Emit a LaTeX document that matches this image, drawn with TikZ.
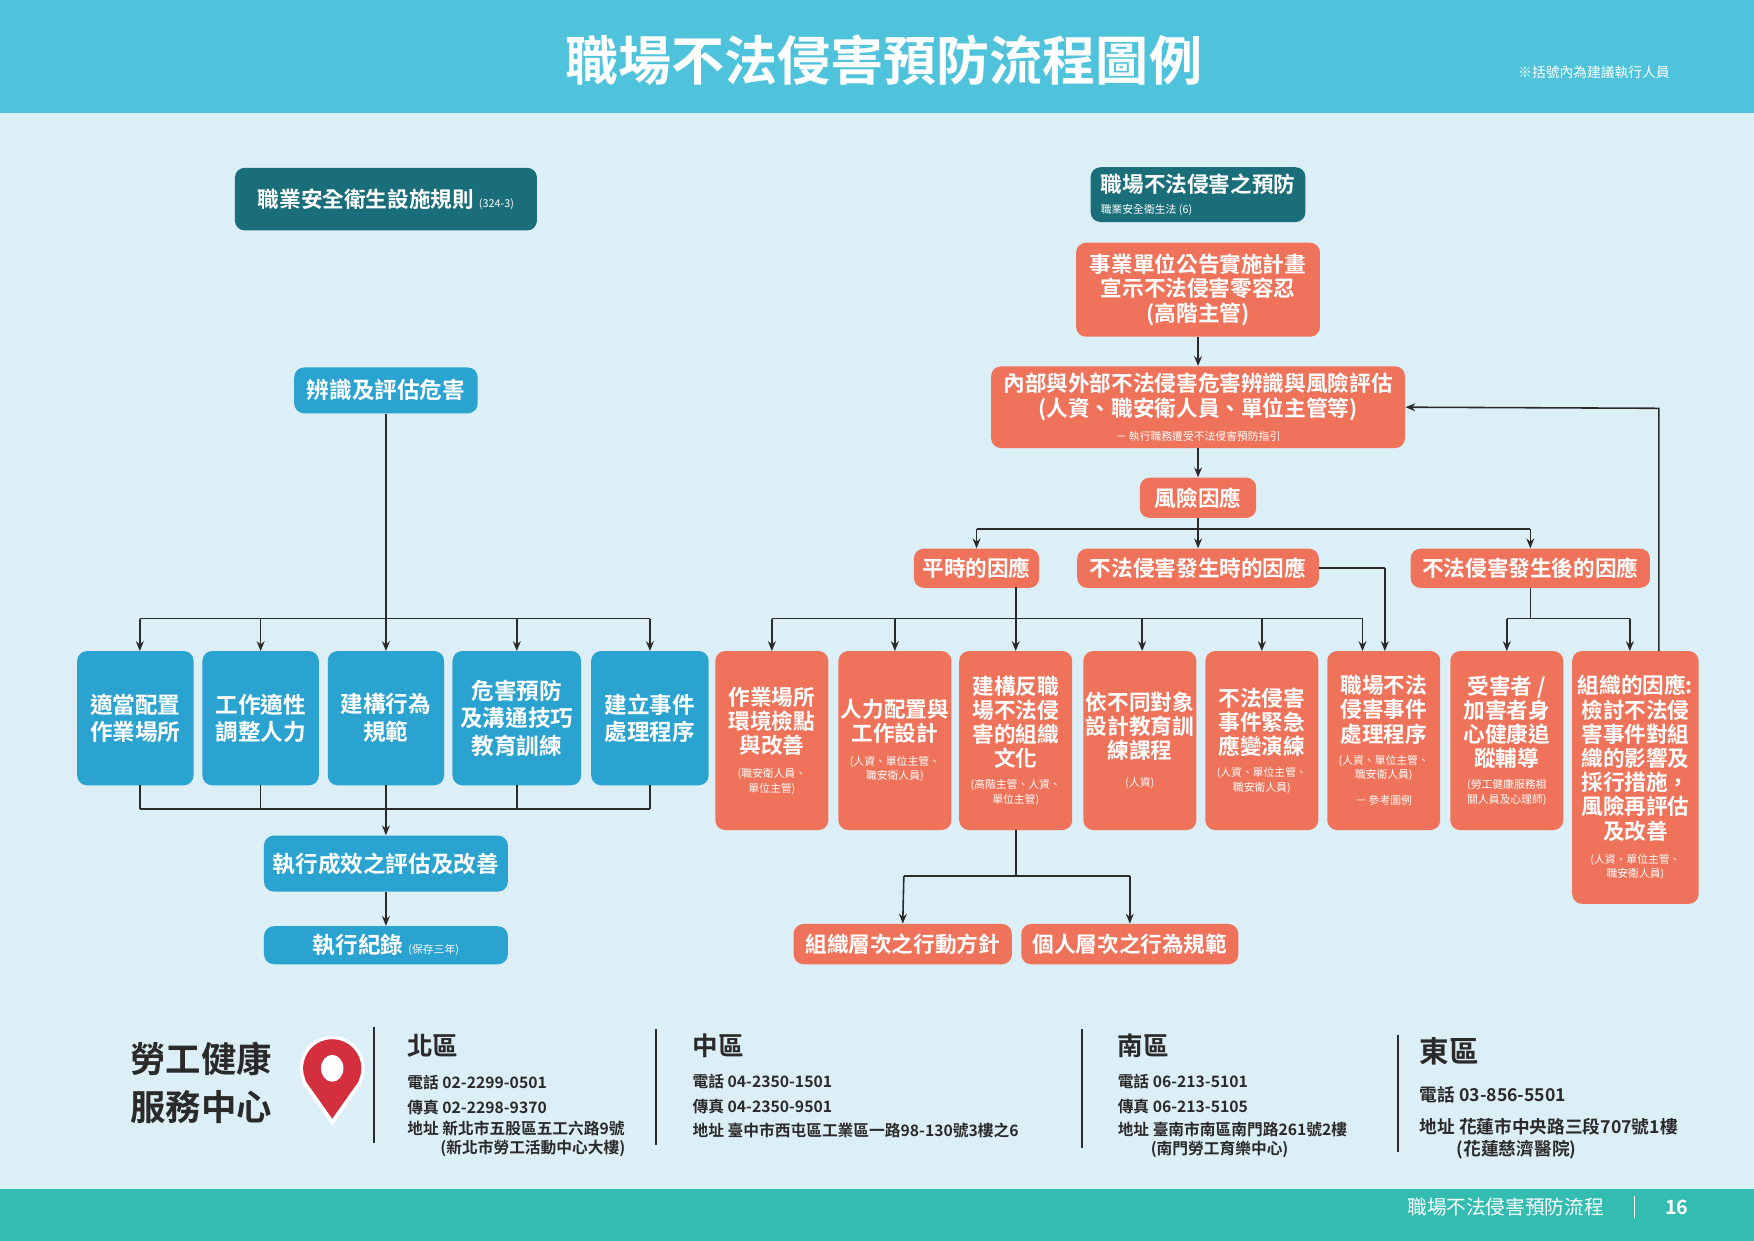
\documentclass[tikz,border=0pt]{standalone}
\usepackage{fontspec}
\setmainfont{Noto Sans CJK TC}[BoldFont={* Bold}]
\usetikzlibrary{arrows.meta}
\definecolor{hdr}{HTML}{4FC3DB}
\definecolor{bg}{HTML}{DDEFF6}
\definecolor{ftr}{HTML}{33BCB0}
\definecolor{dk}{HTML}{1A6E7A}
\definecolor{bl}{HTML}{2BA3D0}
\definecolor{org}{HTML}{EE735A}
\definecolor{ln}{HTML}{2A2A2A}
\definecolor{pinred}{HTML}{D32F3F}
\def\pxu{0.02cm}
\tikzset{
 bx/.style={rounded corners=5pt,text=white,align=center,inner sep=1pt,font=\bfseries\fontsize{11}{13.5}\selectfont},
 dbox/.style={bx,fill=dk},
 bbox/.style={bx,fill=bl,font=\bfseries\fontsize{11.5}{14}\selectfont},
 obox/.style={bx,fill=org},
 tall/.style={obox,minimum width=101*\pxu,minimum height=160*\pxu,font=\bfseries\fontsize{11}{12.3}\selectfont},
 cn/.style={draw=ln,line width=0.8pt},
 ar/.style={cn,-{Stealth[length=5pt,width=4pt]}},
 ft/.style={anchor=west,text=ln,font=\bfseries\fontsize{8}{10}\selectfont,align=left}
}
\newcommand{\smt}[1]{{\fontsize{5.5}{7}\selectfont\mdseries #1}}
\newcommand{\smf}{\fontsize{5.5}{6.5}\selectfont\mdseries}
\begin{document}
\begin{tikzpicture}[x=0.02cm,y=-0.02cm]
\fill[bg] (0,0) rectangle (1568,1109);
\fill[hdr] (0,0) rectangle (1568,101);
\fill[ftr] (0,1063) rectangle (1568,1109);
\node[text=white,font=\bfseries\fontsize{27}{30}\selectfont] (title) at (790,54) {職場不法侵害預防流程圖例};
\node[text=white,font=\fontsize{7}{8}\selectfont] (note) at (1425,65) {※括號內為建議執行人員};
\node[text=white,font=\fontsize{10}{12}\selectfont,anchor=east] (pg) at (1440,1079) {職場不法侵害預防流程};
\draw[white,line width=0.8pt] (1461,1069) -- (1461,1089);
\node[text=white,font=\bfseries\fontsize{10}{12}\selectfont] (pgn) at (1499,1079) {16};

% left column
\node[dbox,minimum width=270*\pxu,minimum height=56*\pxu] (l0) at (345,178) {職業安全衛生設施規則 \smt{(324-3)}};
\node[bbox,minimum width=164*\pxu,minimum height=41*\pxu] (l1) at (345,349) {辨識及評估危害};
\node[bbox,minimum width=104*\pxu,minimum height=120*\pxu] (La) at (121,642) {適當配置\\作業場所};
\node[bbox,minimum width=104*\pxu,minimum height=120*\pxu] (Lb) at (233,642) {工作適性\\調整人力};
\node[bbox,minimum width=104*\pxu,minimum height=120*\pxu] (Lc) at (345,642) {建構行為\\規範};
\node[bbox,minimum width=115*\pxu,minimum height=120*\pxu] (Ld) at (462,642) {危害預防\\及溝通技巧\\教育訓練};
\node[bbox,minimum width=105*\pxu,minimum height=120*\pxu] (Le) at (581,642) {建立事件\\處理程序};
\node[bbox,minimum width=218*\pxu,minimum height=50*\pxu] (l2) at (345,772) {執行成效之評估及改善};
\node[bbox,minimum width=218*\pxu,minimum height=34*\pxu] (l3) at (345,845) {執行紀錄 \smt{(保存三年)}};
\draw[cn] (l1.south) -- (345,553);
\draw[cn] (125,553) -- (581,553);
\foreach \x in {125,233,345,462,581} \draw[ar] (\x,553) -- (\x,582);
\foreach \x in {125,233,345,462,581} \draw[cn] (\x,702) -- (\x,723);
\draw[cn] (125,723) -- (581,723);
\draw[ar] (345,723) -- (l2.north);
\draw[ar] (l2.south) -- (l3.north);

% right column
\node[dbox,minimum width=192*\pxu,minimum height=49*\pxu,align=left] (r0) at (1071,174) {職場不法侵害之預防\\[-3pt]\smf 職業安全衛生法 (6)};
\node[obox,minimum width=218*\pxu,minimum height=84*\pxu,font=\bfseries\fontsize{11}{12.5}\selectfont] (r1) at (1071,259) {事業單位公告實施計畫\\宣示不法侵害零容忍\\(高階主管)};
\node[obox,minimum width=370*\pxu,minimum height=73*\pxu,font=\bfseries\fontsize{11}{12.5}\selectfont] (r2) at (1071,364) {內部與外部不法侵害危害辨識與風險評估\\(人資、職安衛人員、單位主管等)\\\smf － 執行職務遭受不法侵害預防指引};
\node[obox,minimum width=104*\pxu,minimum height=36*\pxu] (r3) at (1071,445) {風險因應};
\node[obox,minimum width=112*\pxu,minimum height=35*\pxu] (p1) at (873,508) {平時的因應};
\node[obox,minimum width=216*\pxu,minimum height=35*\pxu] (p2) at (1071,508) {不法侵害發生時的因應};
\node[obox,minimum width=214*\pxu,minimum height=35*\pxu] (p3) at (1368,508) {不法侵害發生後的因應};
\draw[ar] (r1.south) -- (r2.north);
\draw[ar] (r2.south) -- (r3.north);
\draw[cn] (r3.south) -- (1071,473);
\draw[cn] (873,473) -- (1368,473);
\draw[ar] (873,473) -- (p1.north);
\draw[ar] (1071,473) -- (p2.north);
\draw[ar] (1368,473) -- (p3.north);

\node[tall] (Ra) at (690,662) {作業場所\\環境檢點\\與改善\\[0pt]\smf (職安衛人員、\\[-5pt]\smf 單位主管)};
\node[tall] (Rb) at (800,662) {人力配置與\\工作設計\\[0pt]\smf (人資、單位主管、\\[-5pt]\smf 職安衛人員)};
\node[tall] (Rc) at (908,662) {建構反職\\場不法侵\\害的組織\\文化\\[-1pt]\smf (高階主管、人資、\\[-5pt]\smf 單位主管)};
\node[tall] (Rd) at (1019,662) {依不同對象\\設計教育訓\\練課程\\[2pt]\smf (人資)};
\node[tall] (Re) at (1128,662) {不法侵害\\事件緊急\\應變演練\\[-1pt]\smf (人資、單位主管、\\[-5pt]\smf 職安衛人員)};
\node[tall] (Rf) at (1237,662) {職場不法\\侵害事件\\處理程序\\[-1pt]\smf (人資、單位主管、\\[-5pt]\smf 職安衛人員)\\[1pt]\smf － 參考圖例};
\node[tall] (Rg) at (1347,662) {受害者 /\\加害者身\\心健康追\\蹤輔導\\[-1pt]\smf (勞工健康服務相\\[-5pt]\smf 關人員及心理師)};
\node[obox,minimum width=113*\pxu,minimum height=226*\pxu,font=\bfseries\fontsize{11}{12.3}\selectfont] (Rh) at (1462,695) {組織的因應:\\檢討不法侵\\害事件對組\\織的影響及\\採行措施，\\風險再評估\\及改善\\[0pt]\smf (人資、單位主管、\\[-5pt]\smf 職安衛人員)};
\draw[cn] (908,525) -- (908,553);
\draw[cn] (690,553) -- (1218,553);
\foreach \x in {690,800,908,1021,1128,1218} \draw[ar] (\x,553) -- (\x,582);
\draw[cn] (p2.east) -- (1238,508);
\draw[ar] (1238,508) -- (1238,582);
\draw[cn] (p3.south) -- (1368,553);
\draw[cn] (1347,553) -- (1457,553);
\draw[ar] (1347,553) -- (1347,582);
\draw[ar] (1457,553) -- (1457,582);
\draw[ar] (1483,582) -- (1483,365) -- (r2.east);

\node[obox,minimum width=195*\pxu,minimum height=36*\pxu] (s1) at (807,844) {組織層次之行動方針};
\node[obox,minimum width=194*\pxu,minimum height=36*\pxu] (s2) at (1010,844) {個人層次之行為規範};
\draw[cn] (Rc.south) -- (908,783);
\draw[cn] (808,783) -- (1010,783);
\draw[ar] (808,783) -- (s1.north);
\draw[ar] (1010,783) -- (s2.north);

% footer info
\node[text=ln,font=\bfseries\fontsize{18}{24}\selectfont,align=left] (hc) at (180,968) {勞工健康\\服務中心};
\fill[white] (297,955) circle (29);
\fill[white] (270,968) -- (297,1006) -- (324,968) -- cycle;
\fill[pinred] (297,955) circle (26);
\fill[pinred] (273,966) -- (297,1000) -- (321,966) -- cycle;
\fill[white] (297,955) ellipse (10 and 12);
\foreach \x/\a/\b in {334/918/1022,586/920/1024,967/920/1026,1250/925/1030} \draw[ln,line width=1pt] (\x,\a) -- (\x,\b);
\node[ft,font=\bfseries\fontsize{13}{15}\selectfont] (n0) at (358,935) {北區};
\node[ft] (n1) at (358,968) {電話 02-2299-0501};
\node[ft] (n2) at (358,990) {傳真 02-2298-9370};
\node[ft] (n3) at (358,1018) {地址 新北市五股區五工六路9號\\\hspace*{2.1em}(新北市勞工活動中心大樓)};
\node[ft,font=\bfseries\fontsize{13}{15}\selectfont] (c0) at (613,935) {中區};
\node[ft] (c1) at (613,967) {電話 04-2350-1501};
\node[ft] (c2) at (613,989) {傳真 04-2350-9501};
\node[ft] (c3) at (613,1011) {地址 臺中市西屯區工業區一路98-130號3樓之6};
\node[ft,font=\bfseries\fontsize{13}{15}\selectfont] (s0) at (993,935) {南區};
\node[ft] (s1a) at (993,967) {電話 06-213-5101};
\node[ft] (s2a) at (993,989) {傳真 06-213-5105};
\node[ft] (s3a) at (993,1019) {地址 臺南市南區南門路261號2樓\\\hspace*{2.1em}(南門勞工育樂中心)};
\node[ft,font=\bfseries\fontsize{15}{17}\selectfont] (e0) at (1263,940) {東區};
\node[ft,font=\bfseries\fontsize{9}{11}\selectfont] (e1) at (1263,979) {電話 03-856-5501};
\node[ft,font=\bfseries\fontsize{9}{11}\selectfont] (e3) at (1263,1018) {地址 花蓮市中央路三段707號1樓\\\hspace*{2.1em}(花蓮慈濟醫院)};
\end{tikzpicture}
\end{document}
